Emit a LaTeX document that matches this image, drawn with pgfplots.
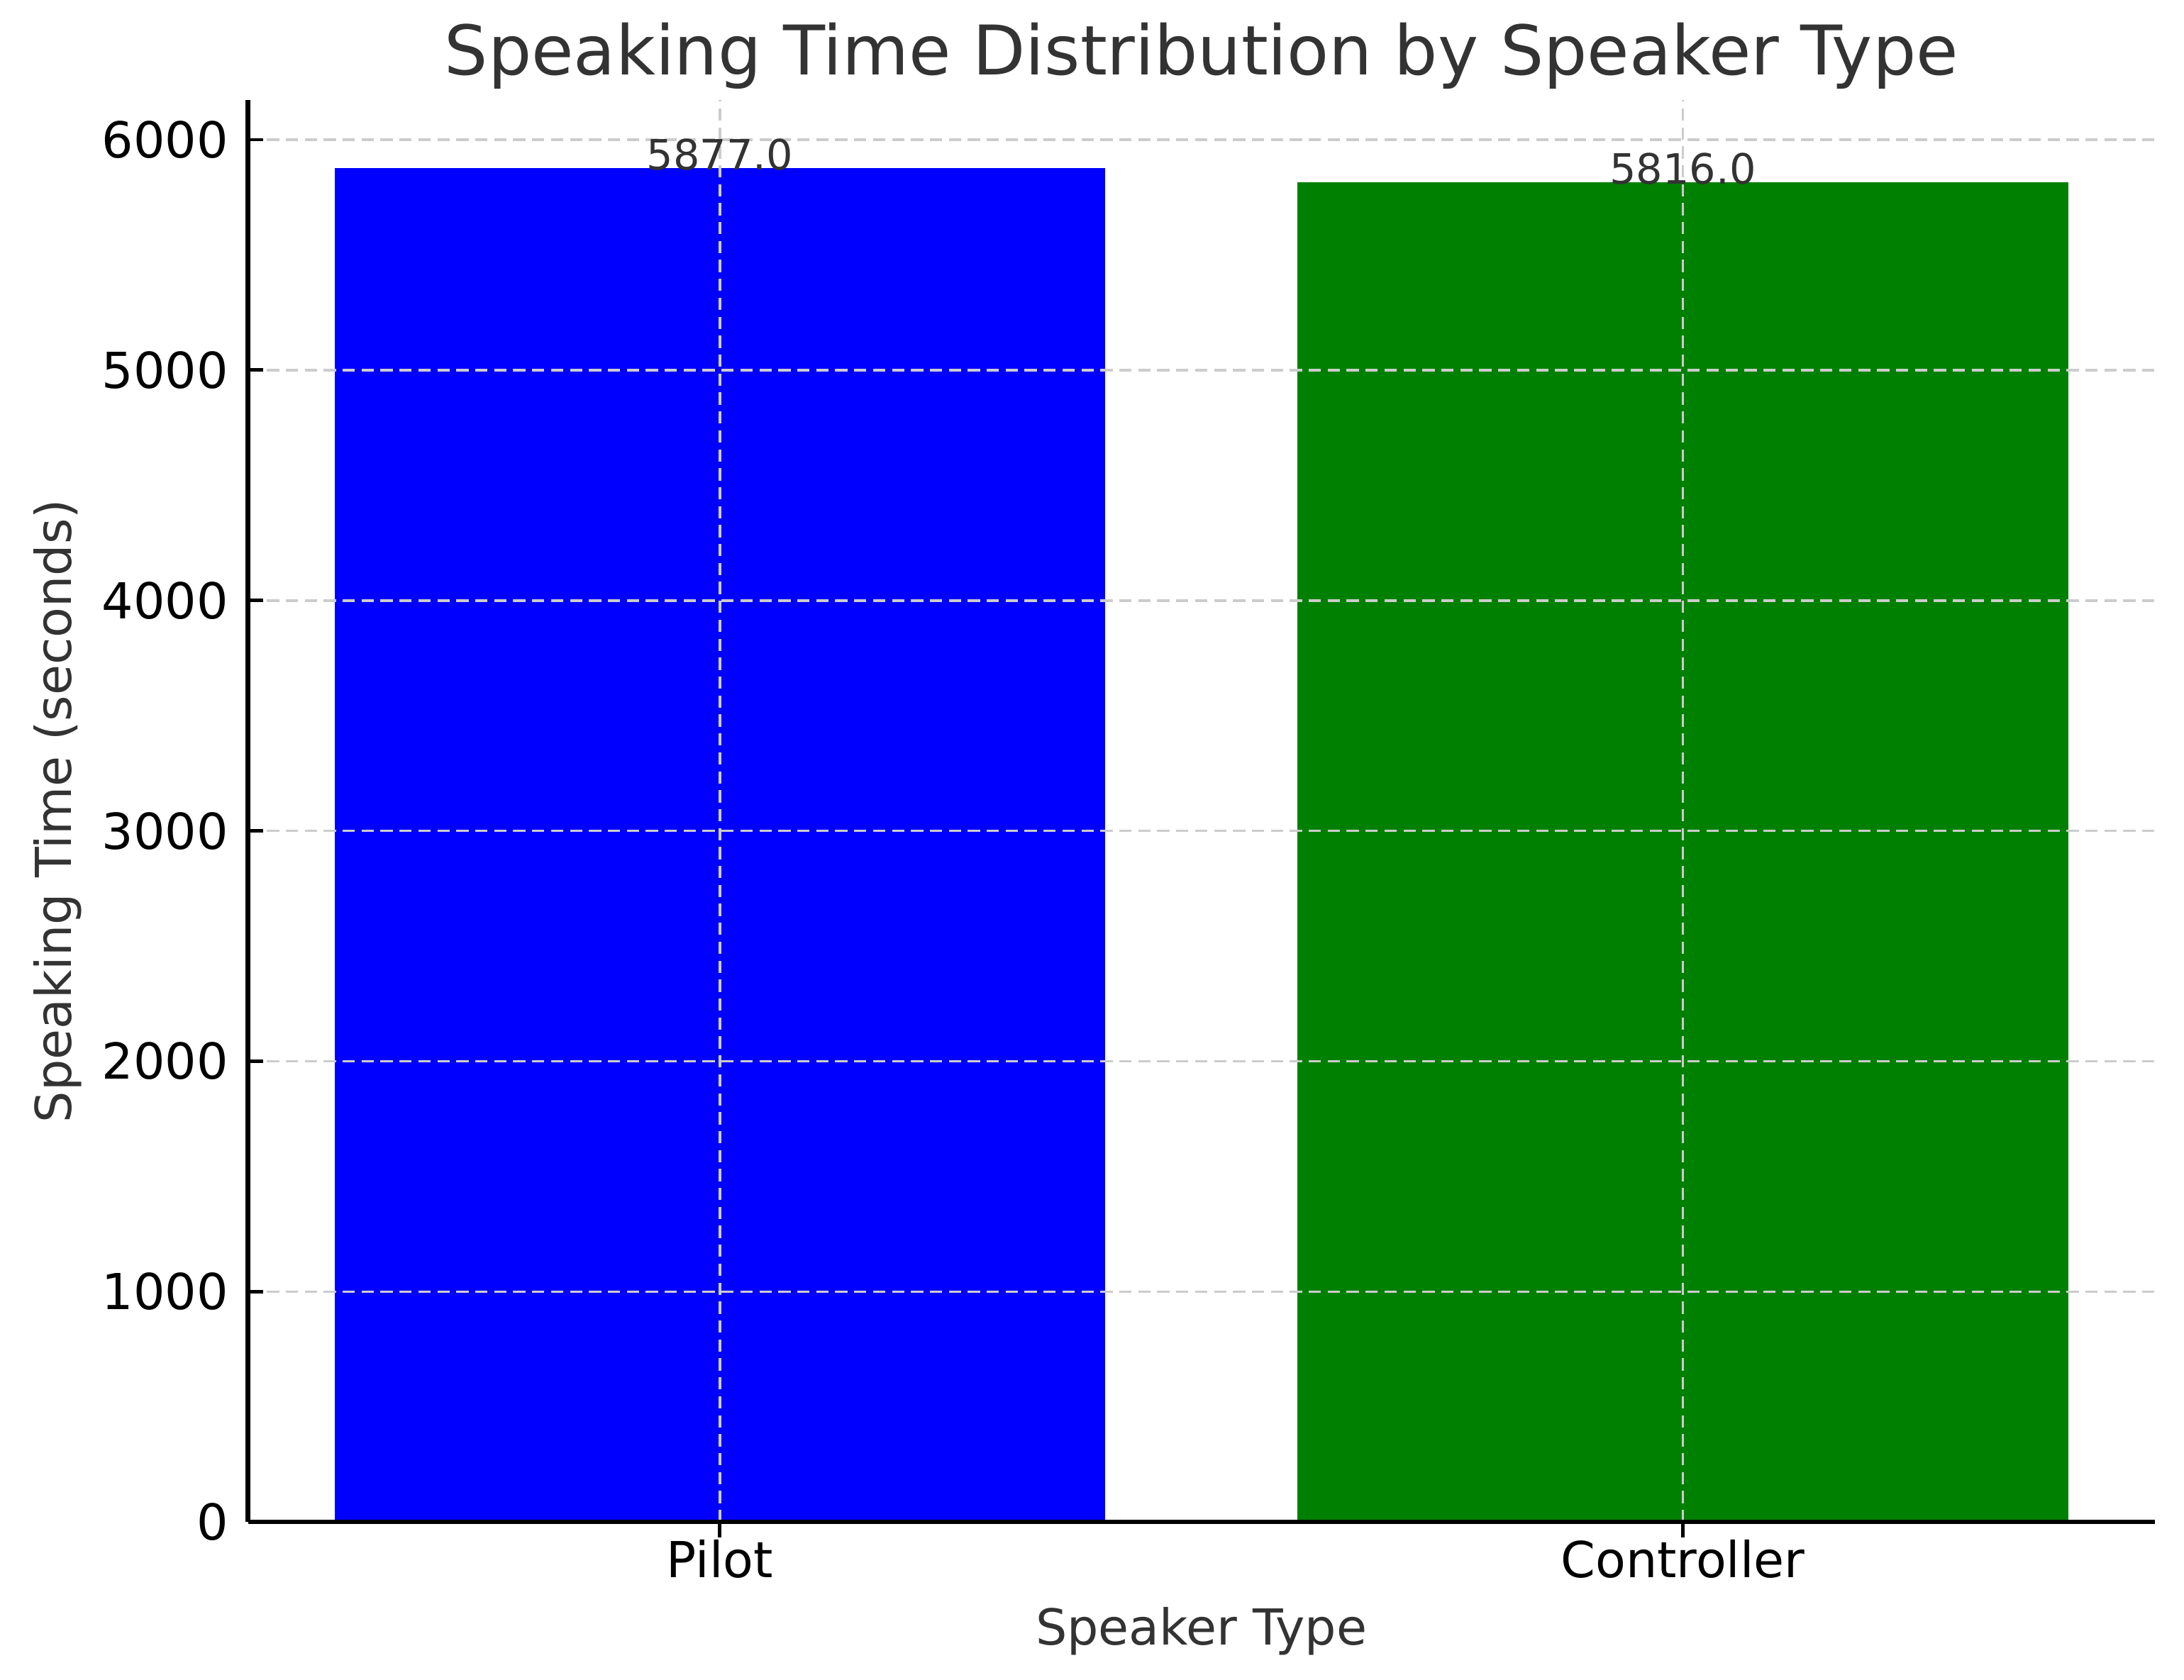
\documentclass[border=0pt]{standalone}
\usepackage{fontspec}
\setmainfont{DejaVu Sans}
\usepackage{pgfplots}
\pgfplotsset{compat=1.18}
\definecolor{txt}{RGB}{51,51,51}
\definecolor{gridc}{RGB}{204,204,204}
\definecolor{mplblue}{RGB}{0,0,255}
\definecolor{mplgreen}{RGB}{0,128,0}

\begin{document}
\begin{tikzpicture}
  \begin{axis}[
      scale only axis,
      width=342.25pt,
      height=255.25pt,
      xmin=-0.49, xmax=1.49,
      ymin=0, ymax=6171,
      axis x line*=bottom,
      axis y line*=left,
      axis line style={line width=0.8pt, black},
      axis on top,
      xtick={0,1},
      xticklabels={Pilot,Controller},
      ytick={0,1000,2000,3000,4000,5000,6000},
      scaled y ticks=false,
      /pgf/number format/assume math mode=true,
      /pgf/number format/1000 sep={},
      tick label style={font=\fontsize{8.9}{10}\selectfont, black},
      xticklabel style={yshift=3pt},
      major tick length=2.7pt,
      tick style={line width=0.6pt, black},
      grid=major,
      major grid style={gridc, line width=0.45pt, dash pattern=on 2.2pt off 1.2pt},
      title={Speaking Time Distribution by Speaker Type},
      title style={font=\fontsize{12.3}{14}\selectfont, txt, yshift=-7.5pt},
      xlabel={Speaker Type},
      ylabel={Speaking Time (seconds)},
      label style={font=\fontsize{8.9}{10}\selectfont, txt},
      xlabel style={yshift=1.7pt},
      ylabel style={yshift=-3.2pt},
      ybar,
      bar width=0.8,
      bar shift=0pt,
      nodes near coords,
      nodes near coords style={font=\fontsize{7.5}{9}\selectfont, txt, anchor=south, inner sep=0pt, yshift=-0.6pt,
        /pgf/number format/.cd, fixed, fixed zerofill, precision=1, 1000 sep={}},
    ]
    \addplot[fill=mplblue, draw=none] coordinates {(0,5877)};
    \addplot[fill=mplgreen, draw=none] coordinates {(1,5816)};
    \coordinate (sw) at (rel axis cs:0,0);
    \coordinate (ne) at (rel axis cs:1,1);
  \end{axis}
  \pgfresetboundingbox
  \path ([xshift=-44.5pt,yshift=-28.25pt]sw) rectangle ([xshift=5.25pt,yshift=18pt]ne);
\end{tikzpicture}
\end{document}
